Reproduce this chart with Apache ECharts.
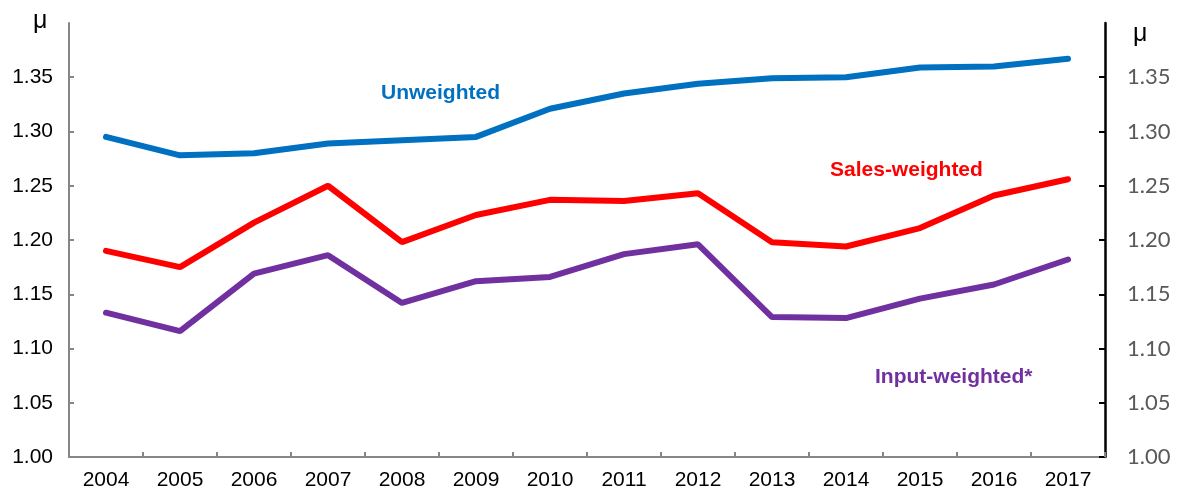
<!DOCTYPE html>
<html>
<head>
<meta charset="utf-8">
<script src="https://cdn.jsdelivr.net/npm/echarts@6/dist/echarts.min.js"></script>
<style>
html, body { margin: 0; padding: 0; background: #fff; }
#chart { width: 1180px; height: 495px; }
</style>
</head>
<body>
<div id="chart"></div>
<script>
// 年份
var years = ['2004', '2005', '2006', '2007', '2008', '2009', '2010', '2011', '2012', '2013', '2014', '2015', '2016', '2017'];
// 三条曲线
var unweighted = [1.295, 1.278, 1.280, 1.289, 1.292, 1.295, 1.321, 1.335, 1.344, 1.349, 1.350, 1.359, 1.360, 1.367];
var salesWeighted = [1.190, 1.175, 1.216, 1.250, 1.198, 1.223, 1.237, 1.236, 1.243, 1.198, 1.194, 1.211, 1.241, 1.256];
var inputWeighted = [1.133, 1.116, 1.169, 1.186, 1.142, 1.162, 1.166, 1.187, 1.196, 1.129, 1.128, 1.146, 1.159, 1.182];
// 纵轴
var yMin = 1.00, yMax = 1.40, yStep = 0.05;

var chart = echarts.init(document.getElementById('chart'));

function lineSeries(name, data, color) {
    return {
        name: name,
        type: 'line',
        data: data,
        symbol: 'none',
        silent: true,
        lineStyle: { color: color, width: 6, cap: 'round' }
    };
}

chart.setOption({
    animation: false,
    grid: { left: 69, right: 75, top: 23, bottom: 38 },
    xAxis: {
        type: 'category',
        data: years,
        boundaryGap: true,
        axisLine: { lineStyle: { color: '#868686', width: 2 } },
        axisTick: { show: true, inside: true, length: 5, lineStyle: { color: '#868686', width: 2 } },
        axisLabel: { color: '#000', fontFamily: 'Liberation Sans', fontSize: 21, margin: 13 },
        splitLine: { show: false }
    },
    yAxis: [
        {
            type: 'value',
            min: yMin, max: yMax, interval: yStep,
            axisLine: { show: true, lineStyle: { color: '#868686', width: 2 } },
            axisTick: { show: true, inside: true, length: 5, lineStyle: { color: '#868686', width: 2 } },
            axisLabel: {
                color: '#000', fontFamily: 'Liberation Sans', fontSize: 21, margin: 16,
                showMaxLabel: false,
                formatter: function (v) { return v.toFixed(2); }
            },
            splitLine: { show: false }
        },
        {
            type: 'value',
            position: 'right',
            min: yMin, max: yMax, interval: yStep,
            axisLine: { show: true, lineStyle: { color: '#000', width: 2.5 } },
            axisTick: { show: true, inside: true, length: 6, lineStyle: { color: '#000', width: 2 } },
            axisLabel: {
                color: '#595959', fontFamily: 'Lato', fontSize: 22, margin: 22,
                showMaxLabel: false,
                formatter: function (v) { return v.toFixed(2); }
            },
            splitLine: { show: false }
        }
    ],
    graphic: [
        { type: 'text', left: 33, top: 9, style: { text: 'μ', fill: '#000', font: '25px "Liberation Sans"' } },
        { type: 'text', left: 1133, top: 22, style: { text: 'μ', fill: '#000', font: '25px "Liberation Sans"' } },
        { type: 'text', left: 381, top: 83, style: { text: 'Unweighted', fill: '#0070C0', font: 'bold 21px "Liberation Sans"' } },
        { type: 'text', left: 830, top: 160, style: { text: 'Sales-weighted', fill: '#FF0000', font: 'bold 21px "Liberation Sans"' } },
        { type: 'text', left: 875, top: 367, style: { text: 'Input-weighted*', fill: '#7030A0', font: 'bold 21px "Liberation Sans"' } }
    ],
    series: [
        lineSeries('Unweighted', unweighted, '#0070C0'),
        lineSeries('Sales-weighted', salesWeighted, '#FF0000'),
        lineSeries('Input-weighted*', inputWeighted, '#7030A0')
    ]
});
</script>
</body>
</html>
